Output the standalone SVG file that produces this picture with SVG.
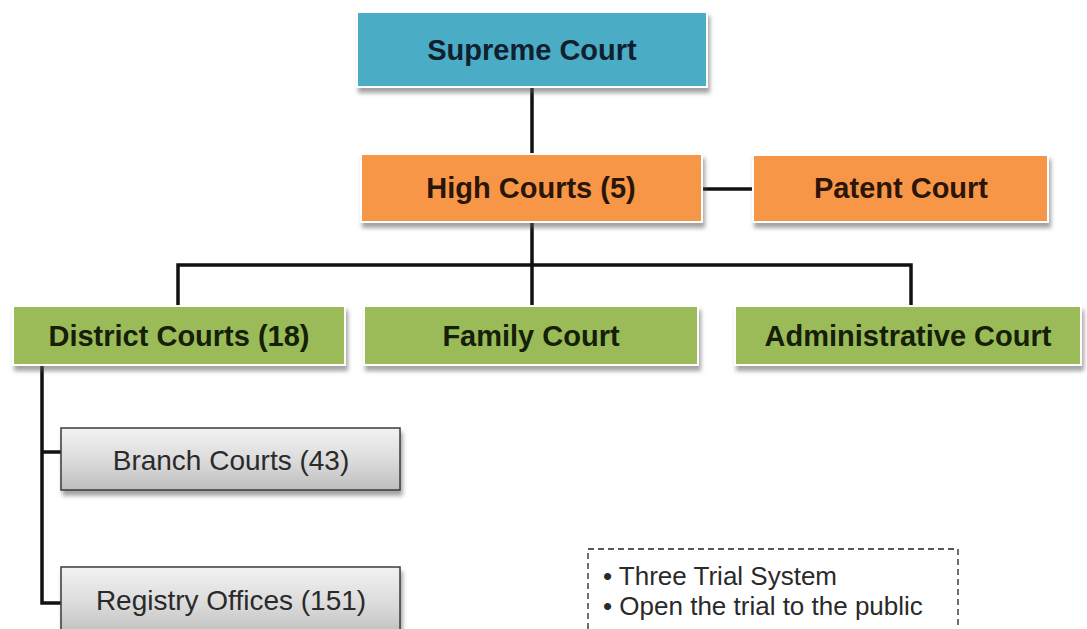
<svg xmlns="http://www.w3.org/2000/svg" width="1087" height="629" viewBox="0 0 1087 629">
  <defs>
    <filter id="shadow" x="-5%" y="-10%" width="115%" height="140%">
      <feDropShadow dx="2" dy="5" stdDeviation="2" flood-color="#555" flood-opacity="0.55"/>
    </filter>
    <linearGradient id="grayFill" x1="0" y1="0" x2="0" y2="1">
      <stop offset="0" stop-color="#f2f2f2"/>
      <stop offset="0.55" stop-color="#dadada"/>
      <stop offset="1" stop-color="#bdbdbd"/>
    </linearGradient>
  </defs>
  <style>
    .box { stroke: #ffffff; stroke-width: 2; filter: url(#shadow); }
    .blue { fill: #4bacc6; }
    .orange { fill: #f79646; }
    .green { fill: #9bbb59; }
    .gray { fill: url(#grayFill); stroke: #3a3a3a; stroke-width: 1.5; filter: url(#shadow); }
    .lbl { font-family: "Liberation Sans", Arial, sans-serif; font-weight: bold; font-size: 29px; text-anchor: middle; }
    .sub { font-family: "Liberation Sans", Arial, sans-serif; font-size: 28px; text-anchor: middle; fill: #2a2a2a; }
    .note { font-family: "Liberation Sans", Arial, sans-serif; font-size: 26px; fill: #2a2a2a; }
    .wire { fill: none; stroke: #111; stroke-width: 3.5; }
  </style>
  <rect width="1087" height="629" fill="#ffffff"/>

  <g id="connectors">
    <line class="wire" x1="532" y1="88" x2="532" y2="154"/>
    <line class="wire" x1="703" y1="189" x2="753" y2="189"/>
    <line class="wire" x1="532" y1="222" x2="532" y2="265"/>
    <polyline class="wire" points="178,305 178,265 911,265 911,305"/>
    <line class="wire" x1="532" y1="265" x2="532" y2="305"/>
    <polyline class="wire" points="42,365 42,603 61,603"/>
    <line class="wire" x1="42" y1="452" x2="61" y2="452"/>
  </g>

  <g id="supreme-court">
    <rect class="box blue" x="357" y="12" width="350" height="75"/>
    <text class="lbl" x="532" y="60" fill="#10202e">Supreme Court</text>
  </g>

  <g id="high-courts">
    <rect class="box orange" x="361" y="154" width="341" height="68"/>
    <text class="lbl" x="531" y="198" fill="#2a1508">High Courts (5)</text>
  </g>

  <g id="patent-court">
    <rect class="box orange" x="753" y="155" width="295" height="67"/>
    <text class="lbl" x="901" y="198" fill="#2a1508">Patent Court</text>
  </g>

  <g id="district-courts">
    <rect class="box green" x="13" y="306" width="332" height="59"/>
    <text class="lbl" x="179" y="346" fill="#142008">District Courts (18)</text>
  </g>

  <g id="family-court">
    <rect class="box green" x="364" y="306" width="334" height="59"/>
    <text class="lbl" x="531" y="346" fill="#142008">Family Court</text>
  </g>

  <g id="administrative-court">
    <rect class="box green" x="735" y="306" width="346" height="59"/>
    <text class="lbl" x="908" y="346" fill="#142008">Administrative Court</text>
  </g>

  <g id="branch-courts">
    <rect class="gray" x="61" y="428" width="339" height="62"/>
    <text class="sub" x="231" y="470">Branch Courts (43)</text>
  </g>

  <g id="registry-offices">
    <rect class="gray" x="61" y="567" width="339" height="70"/>
    <text class="sub" x="231" y="610">Registry Offices (151)</text>
  </g>

  <g id="notes">
    <rect x="588" y="549" width="370" height="90" fill="none" stroke="#222" stroke-width="1.3" stroke-dasharray="6,4"/>
    <text class="note" x="603" y="585">• Three Trial System</text>
    <text class="note" x="603" y="615">• Open the trial to the public</text>
  </g>
</svg>
